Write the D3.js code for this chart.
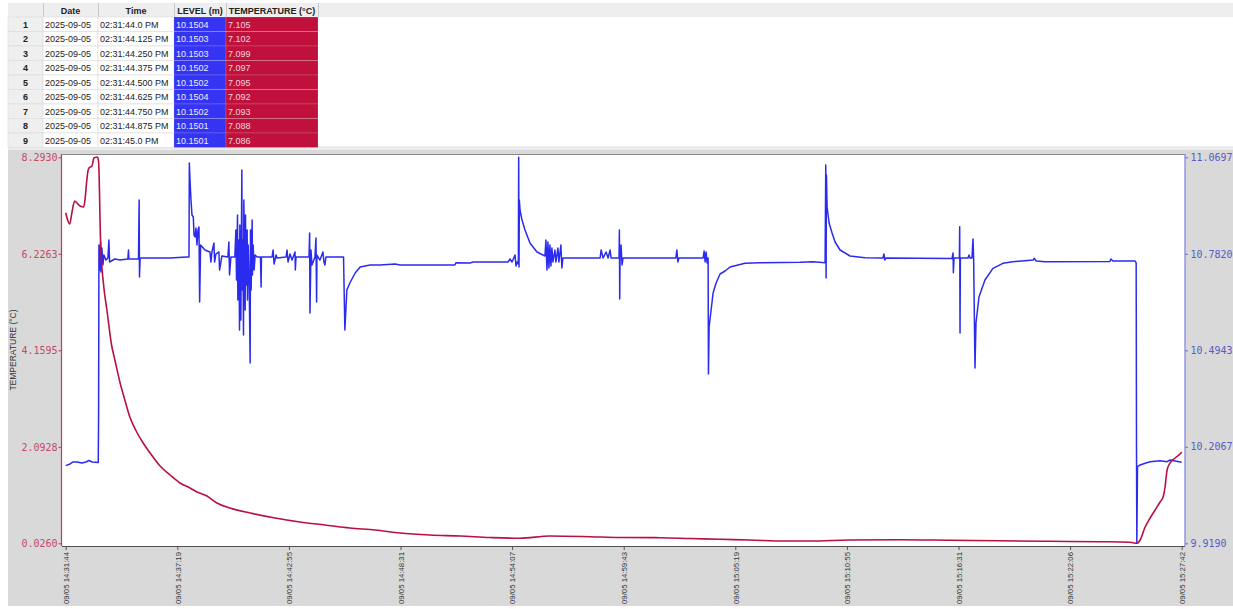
<!DOCTYPE html>
<html><head><meta charset="utf-8">
<script src="https://cdn.jsdelivr.net/npm/d3@7"></script>
<style>
html,body{margin:0;padding:0;background:#fff;}
svg{display:block;}
</style></head><body>
<svg id="c" width="1233" height="609"></svg>
<script>
// ---------- table data ----------
const tableHeaders = ["", "Date", "Time", "LEVEL (m)", "TEMPERATURE (°C)"];
const tableRowNums = ["1","2","3","4","5","6","7","8","9"];
const tableDates = ["2025-09-05","2025-09-05","2025-09-05","2025-09-05","2025-09-05","2025-09-05","2025-09-05","2025-09-05","2025-09-05"];
const tableTimes = ["02:31:44.0 PM","02:31:44.125 PM","02:31:44.250 PM","02:31:44.375 PM","02:31:44.500 PM","02:31:44.625 PM","02:31:44.750 PM","02:31:44.875 PM","02:31:45.0 PM"];
const tableLevels = ["10.1504","10.1503","10.1503","10.1502","10.1502","10.1504","10.1502","10.1501","10.1501"];
const tableTemps = ["7.105","7.102","7.099","7.097","7.095","7.092","7.093","7.088","7.086"];

// ---------- axis ticks ----------
const xTickLabels = ["09/05 14:31:44","09/05 14:37:19","09/05 14:42:55","09/05 14:48:31","09/05 14:54:07","09/05 14:59:43","09/05 15:05:19","09/05 15:10:55","09/05 15:16:31","09/05 15:22:06","09/05 15:27:42"];
const xTickSeconds = [0, 335.8, 671.6, 1007.4, 1343.2, 1679, 2014.8, 2350.6, 2686.4, 3022.2, 3358];
const tempTicks = [0.0260, 2.0928, 4.1595, 6.2263, 8.2930];
const levelTicks = [9.9190, 10.2067, 10.4943, 10.7820, 11.0697];
const tempAxisTitle = "TEMPERATURE (°C)";

// ---------- series (seconds since 14:31:44) ----------
const tempSec = [0,4,12,19,27,34,43,54,58,63,67,70,79,85,91,96,99,105,115,124,138,148,163,178,193,212,233,254,284,314,344,374,395,425,455,494,555,630,705,780,855,931,1006,1096,1187,1277,1367,1457,1578,1668,1788,1879,1969,2059,2165,2240,2360,2510,2661,2811,2962,3112,3202,3223,3233,3248,3263,3278,3293,3302,3308,3311,3314,3323,3338,3353,3358];
const tempVal = [7.105,6.993,6.865,7.122,7.357,7.314,7.250,7.229,7.379,7.764,8.000,8.064,8.107,8.278,8.293,8.293,8.192,6.479,5.494,5.023,4.273,3.952,3.481,3.095,2.731,2.431,2.174,1.960,1.682,1.489,1.317,1.210,1.125,1.039,0.889,0.782,0.675,0.568,0.482,0.418,0.354,0.311,0.247,0.204,0.182,0.150,0.133,0.182,0.167,0.150,0.146,0.129,0.112,0.097,0.075,0.075,0.097,0.103,0.092,0.080,0.069,0.060,0.050,0.026,0.097,0.375,0.568,0.739,0.911,1.018,1.232,1.425,1.596,1.746,1.853,1.939,1.981];

const levelSec = [0,13,22,34,49,61,70,79,98,99,100,103,105,106,109,112,115,121,127,130,132,148,163,187,189,190,219,221,222,224,254,284,314,364,371,372,374,377,380,384,386,389,392,395,398,401,403,406,419,434,437,440,446,448,452,461,463,470,488,491,493,497,509,512,514,517,518,521,523,524,527,530,531,533,535,536,540,541,543,546,547,549,552,555,556,558,561,562,564,567,570,576,586,588,589,621,624,627,633,636,663,666,669,675,681,690,691,693,732,734,735,738,741,750,753,755,756,765,774,777,780,783,836,840,846,855,871,886,916,946,991,1006,1045,1171,1174,1217,1226,1331,1337,1343,1352,1355,1358,1362,1363,1364,1365,1367,1373,1382,1397,1418,1442,1445,1448,1451,1454,1457,1460,1463,1466,1472,1475,1481,1484,1490,1493,1496,1502,1608,1611,1617,1626,1632,1638,1641,1665,1666,1667,1668,1671,1674,1677,1836,1839,1842,1845,1918,1921,1924,1927,1930,1933,1934,1936,1948,1957,1969,1984,1999,2044,2089,2210,2249,2285,2287,2288,2289,2291,2297,2306,2315,2330,2360,2405,2459,2462,2465,2468,2667,2670,2671,2673,2689,2690,2691,2692,2715,2718,2721,2727,2730,2732,2736,2739,2748,2766,2790,2820,2850,2911,2914,2920,2947,3142,3145,3151,3218,3221,3222,3223,3225,3233,3248,3263,3293,3314,3323,3338,3358];
const levelVal = [10.1504,10.1555,10.1614,10.1614,10.1584,10.1614,10.1659,10.1614,10.1599,10.3074,10.8083,10.7337,10.8172,10.7278,10.7993,10.7486,10.7784,10.7635,10.7695,10.8232,10.7576,10.7665,10.7635,10.7665,10.7933,10.7665,10.7665,10.9424,10.7129,10.7695,10.7695,10.7695,10.7695,10.7725,10.7725,11.0527,11.0020,10.9424,10.8977,10.8917,10.8381,10.8321,10.8589,10.8083,10.8530,10.8619,10.6383,10.8083,10.7933,10.7874,10.7576,10.7874,10.8142,10.7576,10.7814,10.7874,10.7337,10.7755,10.7725,10.8172,10.7188,10.7725,10.7725,10.8530,10.7039,10.8977,10.6443,10.8232,10.5549,10.8679,10.5847,11.0318,10.6741,10.8232,10.5400,10.9424,10.6145,10.8977,10.6890,10.8530,10.6443,10.8083,10.7039,10.4565,10.8530,10.6741,10.8828,10.7188,10.8083,10.7337,10.7784,10.7725,10.7725,10.6831,10.7725,10.7725,10.7933,10.7516,10.7784,10.7695,10.7725,10.7933,10.7576,10.7814,10.7635,10.7874,10.7337,10.7725,10.7725,10.8440,10.6055,10.7933,10.7486,10.7725,10.8291,10.6383,10.7784,10.7635,10.7874,10.7576,10.7486,10.7725,10.7725,10.5549,10.6741,10.6950,10.7248,10.7427,10.7486,10.7486,10.7516,10.7486,10.7486,10.7486,10.7555,10.7546,10.7576,10.7576,10.7665,10.7576,10.7784,10.7457,10.7576,10.7516,11.0697,10.7427,10.9424,10.9126,10.8828,10.8530,10.8142,10.7874,10.7755,10.8232,10.7337,10.8172,10.7397,10.8083,10.7457,10.7993,10.7576,10.7933,10.7576,10.7993,10.7576,10.8083,10.7397,10.7695,10.7695,10.7695,10.7933,10.7695,10.7874,10.7695,10.7933,10.7695,10.7695,10.8530,10.6473,10.7695,10.8083,10.7486,10.7695,10.7695,10.7933,10.7576,10.7695,10.7695,10.7904,10.7576,10.7874,10.7546,10.7695,10.4237,10.5638,10.6652,10.6950,10.7218,10.7307,10.7427,10.7537,10.7555,10.7567,10.7585,10.7555,11.0467,10.7099,11.0169,10.9215,10.8738,10.8440,10.8172,10.7933,10.7755,10.7704,10.7695,10.7814,10.7635,10.7695,10.7680,10.7844,10.7257,10.7695,10.7695,10.8628,10.5459,10.7695,10.7695,10.7784,10.7695,10.7695,10.8261,10.7635,10.4416,10.5757,10.6532,10.7039,10.7388,10.7537,10.7585,10.7635,10.7686,10.7606,10.7585,10.7591,10.7665,10.7606,10.7606,10.7546,10.1971,9.9190,10.1474,10.1525,10.1575,10.1623,10.1653,10.1623,10.1673,10.1644,10.1605];

// ---------- drawing ----------
const svg = d3.select("#c");
const W = 1233, H = 609;

// background pieces
svg.append("rect").attr("x",0).attr("y",0).attr("width",W).attr("height",H).attr("fill","#ffffff");
svg.append("rect").attr("x",8).attr("y",146).attr("width",W-8).attr("height",4).attr("fill","#ececec");
svg.append("rect").attr("x",8).attr("y",150).attr("width",W-8).attr("height",456).attr("fill","#d9d9d9");

// ---- table ----
const colX = [8,43,98,174,226,318];
const headY = 3, headH = 14, rowY0 = 17, rowH = 14.5;
const tbl = svg.append("g").attr("font-family","'Liberation Sans', Arial, sans-serif");
tbl.append("rect").attr("x",8).attr("y",headY).attr("width",W-8).attr("height",headH).attr("fill","#eeeeee");
tableHeaders.forEach((h,i)=>{
  tbl.append("line").attr("x1",colX[i+1]+0.5).attr("x2",colX[i+1]+0.5).attr("y1",headY).attr("y2",headY+headH).attr("stroke","#c8c8c8");
  tbl.append("text").attr("x",(colX[i]+colX[i+1])/2).attr("y",headY+10.5).attr("text-anchor","middle")
    .attr("font-size",9).attr("font-weight","bold").attr("fill","#222").text(h);
});
const cellCols = [
  {vals: tableRowNums, bg:"#efefef", fg:"#222", bold:true, center:true},
  {vals: tableDates, bg:"#ffffff", fg:"#222"},
  {vals: tableTimes, bg:"#ffffff", fg:"#222"},
  {vals: tableLevels, bg:"#3434f2", fg:"#eef"},
  {vals: tableTemps, bg:"#c0103c", fg:"#f6d6de"}
];
cellCols.forEach((c,ci)=>{
  c.vals.forEach((v,ri)=>{
    const y = rowY0 + ri*rowH;
    tbl.append("rect").attr("x",colX[ci]).attr("y",y).attr("width",colX[ci+1]-colX[ci]).attr("height",rowH)
      .attr("fill",c.bg).attr("stroke", ci>=3 ? "rgba(255,255,255,0.25)" : "#dadada").attr("stroke-width",0.6);
    tbl.append("text").attr("x", c.center ? (colX[ci]+colX[ci+1])/2 : colX[ci]+2)
      .attr("y", y+10.5).attr("text-anchor", c.center ? "middle":"start")
      .attr("font-size",9).attr("font-weight", c.bold?"bold":"normal").attr("fill",c.fg).text(v);
  });
});

// ---- chart ----
const plot = {l:62, r:1185, t:154, b:546};
const x = d3.scaleLinear().domain([0,3358]).range([65.7,1181.7]);
const yT = d3.scaleLinear().domain([0.026,8.293]).range([543.3,157.3]);
const yL = d3.scaleLinear().domain([9.919,11.0697]).range([543.3,157.3]);

svg.append("rect").attr("x",plot.l).attr("y",plot.t).attr("width",plot.r-plot.l).attr("height",plot.b-plot.t).attr("fill","#ffffff");
svg.append("line").attr("x1",plot.l).attr("x2",plot.r).attr("y1",plot.t+0.5).attr("y2",plot.t+0.5).attr("stroke","#8a8a8a");

svg.append("clipPath").attr("id","pc").append("rect").attr("x",plot.l).attr("y",plot.t).attr("width",plot.r-plot.l).attr("height",plot.b-plot.t);

const levelData = levelSec.map((s,i)=>[s,levelVal[i]]);
const tempData = tempSec.map((s,i)=>[s,tempVal[i]]);

svg.append("path").attr("clip-path","url(#pc)").attr("d", d3.line().x(d=>x(d[0])).y(d=>yL(d[1]))(levelData))
  .attr("fill","none").attr("stroke","#2b2bf0").attr("stroke-width",1.5).attr("stroke-linejoin","round");
svg.append("path").attr("clip-path","url(#pc)").attr("d", d3.line().curve(d3.curveMonotoneX).x(d=>x(d[0])).y(d=>yT(d[1]))(tempData))
  .attr("fill","none").attr("stroke","#b8103f").attr("stroke-width",1.6).attr("stroke-linejoin","round");

// left axis
const gl = svg.append("g").attr("transform",`translate(${plot.l-0.5},0)`)
  .call(d3.axisLeft(yT).tickValues(tempTicks).tickFormat(d=>d.toFixed(4)).tickSize(3).tickPadding(1));
gl.select(".domain").remove();
gl.selectAll(".tick line").attr("stroke","#c03a5c");
gl.selectAll("text").attr("font-family","'DejaVu Sans Mono', monospace").attr("font-size",10).attr("fill","#c24a6a");
svg.append("line").attr("x1",plot.l-0.5).attr("x2",plot.l-0.5).attr("y1",plot.t).attr("y2",plot.b).attr("stroke","#c03a5c").attr("stroke-width",1.2);

// right axis
const gr = svg.append("g").attr("transform",`translate(${plot.r},0)`)
  .call(d3.axisRight(yL).tickValues(levelTicks).tickFormat(d=>d.toFixed(4)).tickSize(3).tickPadding(2.5));
gr.select(".domain").remove();
gr.selectAll(".tick line").attr("stroke","#6a6ad0");
gr.selectAll("text").attr("font-family","'DejaVu Sans Mono', monospace").attr("font-size",10).attr("fill","#5a5ac4");
svg.append("line").attr("x1",plot.r).attr("x2",plot.r).attr("y1",plot.t).attr("y2",plot.b).attr("stroke","#8080e0").attr("stroke-width",1.2);

// bottom axis
const gb = svg.append("g").attr("transform",`translate(0,${plot.b})`)
  .call(d3.axisBottom(x).tickValues(xTickSeconds).tickFormat((d,i)=>xTickLabels[i]).tickSize(4));
gb.select(".domain").remove();
gb.selectAll(".tick line").attr("stroke","#555");
gb.selectAll("text").attr("transform","rotate(-90)").attr("text-anchor","end")
  .attr("x",-6).attr("y",0).attr("dy","0.35em")
  .attr("font-family","'Liberation Sans', Arial, sans-serif").attr("font-size",7.8).attr("fill","#333");
svg.append("line").attr("x1",plot.l).attr("x2",plot.r).attr("y1",plot.b+0.5).attr("y2",plot.b+0.5).attr("stroke","#505050").attr("stroke-width",1.2);

// left axis title
svg.append("text").attr("transform",`translate(16,${(plot.t+plot.b)/2}) rotate(-90)`).attr("text-anchor","middle")
  .attr("font-family","'Liberation Sans', Arial, sans-serif").attr("font-size",8.5).attr("fill","#333").text(tempAxisTitle);
</script>
</body></html>
